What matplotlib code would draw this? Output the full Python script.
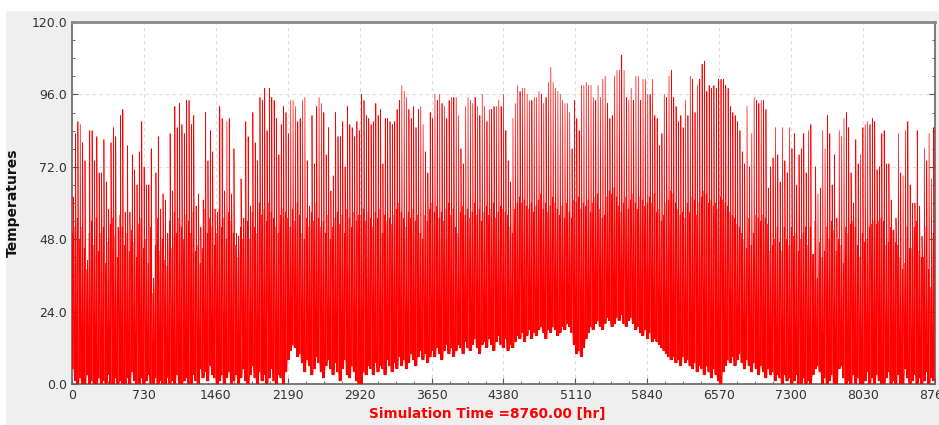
import numpy as np
import matplotlib
matplotlib.use("Agg")
import matplotlib.pyplot as plt
from matplotlib.ticker import MultipleLocator

# ---- data ----
daily_max = [
    62, 83, 87, 86, 80, 74, 41, 84, 84, 74, 82, 70, 70, 81, 67, 58, 80, 85, 82, 52,
    89, 91, 57, 79, 57, 76, 71, 66, 77, 87, 72, 66, 66, 78, 35, 70, 82, 58, 63, 61,
    50, 83, 64, 92, 85, 93, 86, 83, 94, 94, 86, 89, 59, 63, 52, 61, 90, 74, 84, 77, 58,
    57, 92, 88, 64, 87, 88, 63, 78, 50, 49, 68, 55, 87, 82, 59, 90, 80, 74, 95, 94,
    98, 84, 98, 95, 94, 88, 76, 86, 92, 90, 83, 94, 94, 92, 87, 88, 94, 95, 74, 59,
    89, 73, 92, 95, 93, 90, 76, 85, 64, 69, 90, 82, 82, 87, 72, 92, 86, 85, 82, 87, 84,
    96, 94, 89, 88, 86, 87, 93, 89, 91, 73, 88, 88, 87, 86, 87, 91, 94, 99, 97, 95,
    91, 88, 92, 85, 91, 92, 86, 77, 70, 90, 88, 96, 94, 96, 93, 92, 88, 94, 95, 95,
    95, 89, 78, 73, 92, 95, 94, 93, 95, 92, 89, 96, 92, 87, 91, 91, 92, 92, 94, 92, 96,
    84, 74, 67, 88, 93, 99, 97, 98, 98, 96, 94, 94, 95, 95, 97, 96, 93, 95, 100, 105,
    100, 98, 97, 96, 94, 93, 93, 90, 78, 94, 88, 84, 99, 99, 100, 99, 99, 95, 94, 99,
    95, 101, 102, 93, 88, 89, 102, 104, 104, 109, 104, 95, 94, 98, 94, 102, 102, 94, 101, 101, 96,
    96, 101, 89, 88, 79, 83, 96, 95, 102, 104, 95, 92, 87, 89, 85, 94, 89, 102, 101, 90,
    99, 101, 106, 107, 97, 99, 98, 99, 98, 101, 101, 101, 99, 98, 92, 90, 89, 87, 84, 77,
    73, 92, 72, 83, 95, 94, 93, 94, 94, 91, 65, 72, 75, 85, 76, 67, 85, 74, 70, 85, 78, 83,
    66, 76, 78, 83, 70, 84, 86, 43, 72, 63, 65, 84, 78, 89, 83, 66, 76, 55, 84, 82,
    88, 90, 85, 70, 60, 81, 73, 76, 85, 86, 87, 86, 88, 87, 71, 72, 83, 84, 73, 73,
    61, 51, 55, 83, 70, 69, 84, 87, 66, 60, 60, 84, 59, 49, 78, 74, 83, 68, 85,
]

daily_mid = [
    50, 52, 55, 48, 52, 45, 38, 50, 54, 46, 55, 44, 50, 52, 40, 47, 53, 55, 49, 42,
    56, 52, 46, 50, 44, 51, 47, 42, 53, 55, 45, 48, 40, 52, 30, 46, 55, 44, 48, 41,
    39, 54, 45, 57, 50, 55, 52, 48, 56, 54, 50, 57, 44, 46, 40, 45, 58, 50, 55, 52, 46,
    50, 58, 52, 55, 48, 57, 54, 50, 46, 42, 52, 48, 55, 54, 48, 57, 52, 50, 60, 56,
    58, 54, 60, 57, 55, 52, 50, 56, 58, 57, 55, 52, 58, 54, 60, 56, 50, 48, 55, 52,
    57, 54, 60, 55, 52, 54, 50, 56, 48, 52, 55, 57, 53, 56, 50, 58, 55, 52, 57, 54, 56,
    56, 58, 54, 57, 55, 52, 57, 55, 58, 50, 56, 54, 55, 53, 56, 58, 60, 57, 55, 52,
    57, 55, 58, 54, 56, 50, 48, 56, 54, 58, 60, 57, 59, 55, 57, 54, 58, 60, 56, 58,
    52, 50, 57, 59, 56, 58, 55, 57, 60, 56, 58, 54, 57, 59, 56, 58, 60, 55, 57, 59, 58,
    57, 56, 52, 50, 58, 60, 62, 60, 61, 59, 58, 60, 57, 59, 61, 63, 58, 60, 57, 59,
    62, 60, 58, 56, 59, 55, 60, 57, 55, 61, 60, 62, 58, 60, 59, 61, 57, 60, 62, 63,
    58, 55, 56, 62, 64, 63, 65, 62, 59, 57, 60, 62, 58, 61, 63, 60, 58, 62, 61, 59, 60,
    62, 60, 63, 57, 58, 54, 56, 60, 61, 64, 63, 60, 58, 56, 57, 55, 60, 57, 62, 61,
    56, 60, 62, 64, 63, 60, 61, 59, 60, 58, 62, 61, 60, 59, 57, 56, 55, 53, 52, 50,
    48, 45, 55, 46, 50, 56, 55, 54, 56, 55, 53, 44, 46, 48, 52, 47, 44, 52, 48, 46, 52, 49,
    50, 44, 48, 50, 52, 46, 52, 53, 54, 35, 47, 42, 44, 52, 48, 54, 51, 44, 48, 46,
    40, 52, 50, 53, 54, 52, 46, 42, 50, 47, 48, 52, 53, 54, 53, 54, 55, 54, 46, 47,
    52, 53, 47, 46, 42, 38, 40, 52, 45, 45, 52, 54, 44, 42, 42, 52, 38, 32, 50,
]

daily_min = [
    5, 1, 0, 2, 0, 0, 3, 0, 1, 0, 0, 2, 0, 1, 0, 3, 0, 0, 2, 0,
    1, 0, 0, 2, 0, 4, 1, 0, 0, 2, 0, 1, 3, 0, 0, 2, 0, 1, 0, 0,
    2, 0, 1, 0, 3, 0, 0, 1, 2, 0, 0, 3, 1, 0, 5, 2, 4, 1, 6, 3,
    2, 0, 1, 3, 0, 2, 4, 0, 1, 3, 0, 2, 5, 1, 0, 3, 6, 2, 0, 4,
    1, 3, 0, 2, 5, 1, 0, 3, 2, 0, 4, 8, 11, 13, 12, 9, 10, 7, 4, 8,
    6, 3, 5, 9, 7, 4, 2, 6, 8, 5, 3, 7, 4, 1, 5, 8, 3, 2, 6, 4, 1, 0,
    0, 4, 3, 6, 5, 3, 7, 4, 6, 5, 3, 8, 6, 4, 7, 5, 9, 6, 8, 5,
    7, 10, 8, 6, 9, 11, 8, 10, 7, 9, 11, 9, 12, 10, 8, 11, 13, 10, 12, 9,
    11, 13, 12, 10, 14, 12, 11, 13, 15, 12, 10, 13, 14, 12, 15, 13, 11, 14, 16, 13, 12, 15,
    11, 13, 12, 14, 16, 15, 17, 14, 16, 18, 15, 17, 16, 18, 19, 17, 15, 18, 17, 19,
    18, 16, 17, 19, 18, 20, 19, 17, 13, 10, 11, 9, 12, 15, 17, 19, 18, 20, 21, 19,
    18, 20, 22, 21, 19, 20, 22, 21, 23, 20, 19, 21, 22, 20, 18, 19, 17, 16, 18, 15, 17, 14,
    15, 14, 13, 12, 11, 10, 9, 8, 9, 7, 8, 6, 9, 7, 8, 6, 5, 7, 4, 6,
    5, 3, 6, 4, 2, 5, 3, 1, 0, 4, 6, 8, 7, 9, 6, 8, 10, 7, 5, 8,
    6, 4, 7, 5, 3, 6, 4, 2, 5, 3, 4, 1, 3, 2, 0, 3, 1, 2, 0, 1, 3, 0,
    0, 2, 0, 1, 0, 3, 5, 6, 4, 0, 2, 0, 1, 3, 0, 0, 5, 6, 2, 0,
    1, 0, 3, 0, 2, 0, 0, 1, 4, 0, 2, 0, 3, 1, 0, 0, 2, 4, 0, 1,
    0, 3, 0, 0, 5, 2, 0, 1, 3, 0, 2, 0, 1, 4, 0, 2, 1,
]

x_ticks = [0, 730, 1460, 2190, 2920, 3650, 4380, 5110, 5840, 6570, 7300, 8030, 8760]
y_ticks = [0.0, 24.0, 48.0, 72.0, 96.0, 120.0]
x_label = "Simulation Time =8760.00 [hr]"
y_label = "Temperatures"

# ---- hourly trace: each day min -> mid -> min -> max -> mid -> min ----
n = min(len(daily_max), len(daily_mid), len(daily_min))
mx = np.array(daily_max[:n], float)
md = np.minimum(np.array(daily_mid[:n], float), mx)
mn = np.array(daily_min[:n], float)
hour_offsets = np.array([0, 5, 9, 12, 16, 20])
t = (np.arange(n)[:, None] * 24 + hour_offsets[None, :]).ravel()
v = np.stack([mn, md, mn, mx, md, mn], axis=1).ravel()

fig = plt.figure(figsize=(9.39, 4.25), dpi=100, facecolor="#efefef")
ax = fig.add_axes([72 / 939, 1 - 384 / 425, (935 - 72) / 939, (384 - 22) / 425])
ax.set_facecolor("white")

ax.plot(t, v, color="#ff0000", lw=0.5, zorder=3)

ax.set_xlim(0, 8760)
ax.set_ylim(0, 120)
ax.set_xticks(x_ticks)
ax.set_xticklabels([str(x) for x in x_ticks])
ax.set_yticks(y_ticks)
ax.set_yticklabels([f"{y:.1f}" for y in y_ticks])
ax.xaxis.set_minor_locator(MultipleLocator(182.5))
ax.yaxis.set_minor_locator(MultipleLocator(6))
ax.tick_params(which="both", direction="in", colors="#555555", labelcolor="#333333",
               labelsize=9, right=True, top=False)
ax.tick_params(which="major", length=4)
ax.tick_params(which="minor", length=2)
ax.grid(True, which="major", ls=(0, (3, 3)), color="#dcdcdc", lw=0.8, zorder=0)

for side in ["left", "bottom", "right"]:
    ax.spines[side].set_color("#666666")
    ax.spines[side].set_linewidth(1.2)
ax.spines["top"].set_color("#888888")
ax.spines["top"].set_linewidth(2)

ax.set_ylabel(y_label, fontsize=10, fontweight="bold", color="#111111", labelpad=8)
fig.text(487 / 939, 1 - 414 / 425, x_label, color="#ff0000", fontsize=9.8,
         fontweight="bold", ha="center", va="center")

fig.patches.append(plt.Rectangle((0, 1 - 10 / 425), 1, 10 / 425, transform=fig.transFigure,
                                 color="white", zorder=-1))
fig.patches.append(plt.Rectangle((0, 0), 5 / 939, 1, transform=fig.transFigure,
                                 color="white", zorder=-1))

fig.savefig("out.png", dpi=100, facecolor=fig.get_facecolor())
